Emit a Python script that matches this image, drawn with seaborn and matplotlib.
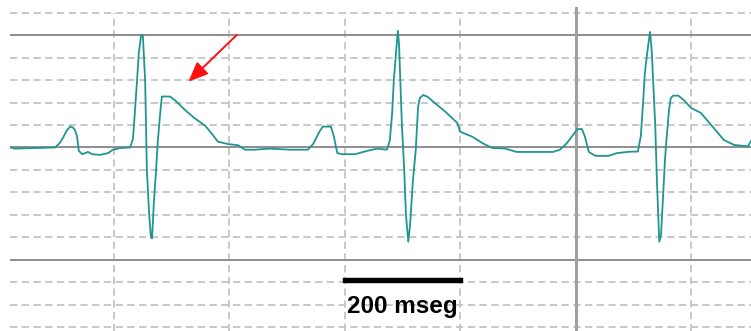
import matplotlib
matplotlib.use("Agg")
import matplotlib.pyplot as plt
import seaborn as sns
import pandas as pd

# ECG trace: time (ms) and amplitude (grid units)
time_ms = [20, 28, 98, 106, 112, 118, 124, 128, 132, 136, 139, 145, 155, 162, 176, 190, 198, 210,
           228, 233, 236, 240, 243, 247, 250, 254, 257, 261, 264, 266, 269, 273, 276, 280,
           283, 297, 306, 323, 340, 358, 370, 380, 398, 415, 427, 444, 470, 505, 536,
           545, 550, 556, 562, 576, 581, 587, 595, 618, 639, 656, 673, 678, 682, 685, 689,
           692, 694, 699, 703, 706, 710, 713, 718, 723, 727, 730, 736, 744, 756, 774,
           795, 800, 821, 838, 855, 878, 898, 961, 973, 985, 994, 1003, 1011, 1016,
           1023, 1034, 1056, 1072, 1094, 1108, 1113, 1117, 1120, 1124, 1129, 1132,
           1138, 1141, 1145, 1148, 1152, 1155, 1158, 1162, 1165, 1169, 1178, 1188,
           1200, 1217, 1235, 1245, 1257, 1275, 1299, 1304]
amplitude = [0.0, -0.05, 0.0, 0.2, 0.45, 0.75, 0.93, 0.9, 0.8, 0.5, -0.15, -0.3, -0.2, -0.3, -0.33,
             -0.25, -0.1, -0.03, 0.0, 0.4, 1.5, 3.0, 4.2, 5.0, 5.0, 3.0, -1.0, -3.0, -4.0,
             -4.05, -2.5, -1.0, 0.3, 1.5, 2.27, 2.27, 2.1, 1.67, 1.3, 0.97, 0.6, 0.26,
             0.15, 0.1, -0.1, -0.1, -0.05, -0.1, -0.1, 0.15, 0.4, 0.7, 0.93, 0.93, 0.5, -0.25,
             -0.3, -0.3, -0.15, -0.05, -0.1, 0.3, 1.5, 3.0, 4.3, 5.2, 4.6, 1.0, -1.0,
             -3.0, -4.2, -3.5, -1.5, -0.1, 1.8, 2.2, 2.34, 2.25, 1.98, 1.6, 1.09, 0.7,
             0.48, 0.2, -0.02, -0.05, -0.2, -0.2, -0.1, 0.2, 0.5, 0.82, 0.82, 0.5, -0.2,
             -0.37, -0.38, -0.25, -0.19, -0.18, 0.5, 2.0, 3.3, 4.2, 5.15, 4.3, 1.0, -1.5,
             -4.2, -3.9, -2.0, -0.5, 0.5, 1.7, 2.2, 2.31, 2.31, 2.1, 1.76, 1.54, 1.0,
             0.7, 0.33, 0.11, 0.05, 0.3]

scale_bar_ms = [600, 800]
scale_label = "200 mseg"
arrow_tail = (413, 5.02)
arrow_head = (329, 2.93)

df = pd.DataFrame({"t": time_ms, "v": amplitude})

sns.set_theme(style="white")
fig = plt.figure(figsize=(7.51, 3.31), dpi=100)
ax = fig.add_axes([10 / 751, 0, 741 / 751, 324 / 331])
ax.set_xlim(19.8, 1304)
ax.set_ylim(-8.18, 6.26)
ax.axis("off")

dash_color = "#c4c4c4"
solid_color = "#8e8e8e"
dash_ls = (0, (4.0, 2.5))

# horizontal grid
for yv in range(-8, 7):
    if yv in (-5, 0, 5):
        ax.axhline(yv, color=solid_color, lw=1.4, zorder=1)
    else:
        ax.axhline(yv, color=dash_color, lw=1.3, ls=dash_ls, zorder=0)
# vertical grid
for xv in [200, 400, 600, 800, 1200]:
    ax.vlines(xv, -8.18, 6.0, color=dash_color, lw=1.3, ls=dash_ls, zorder=0)
ax.axvline(1000, color="#a0a0a0", lw=2.2, zorder=1)

sns.lineplot(data=df, x="t", y="v", ax=ax, color="#1f9690", lw=1.3,
             estimator=None, sort=False, zorder=3)

# scale bar
ax.plot(scale_bar_ms, [-5.91, -5.91], color="black", lw=3.9,
        solid_capstyle="projecting", zorder=4)
ax.text(sum(scale_bar_ms) / 2, -7.38, scale_label, ha="center", va="baseline",
        fontsize=17.5, fontweight="bold", family="Liberation Sans", color="black", zorder=4)

# red arrow
ax.annotate("", xy=arrow_head, xytext=arrow_tail,
            arrowprops=dict(arrowstyle="-|>,head_length=1.0,head_width=0.42",
                            color="#ff1010", lw=1.4, shrinkA=0, shrinkB=0), zorder=5)

fig.savefig("out.png", dpi=100)
